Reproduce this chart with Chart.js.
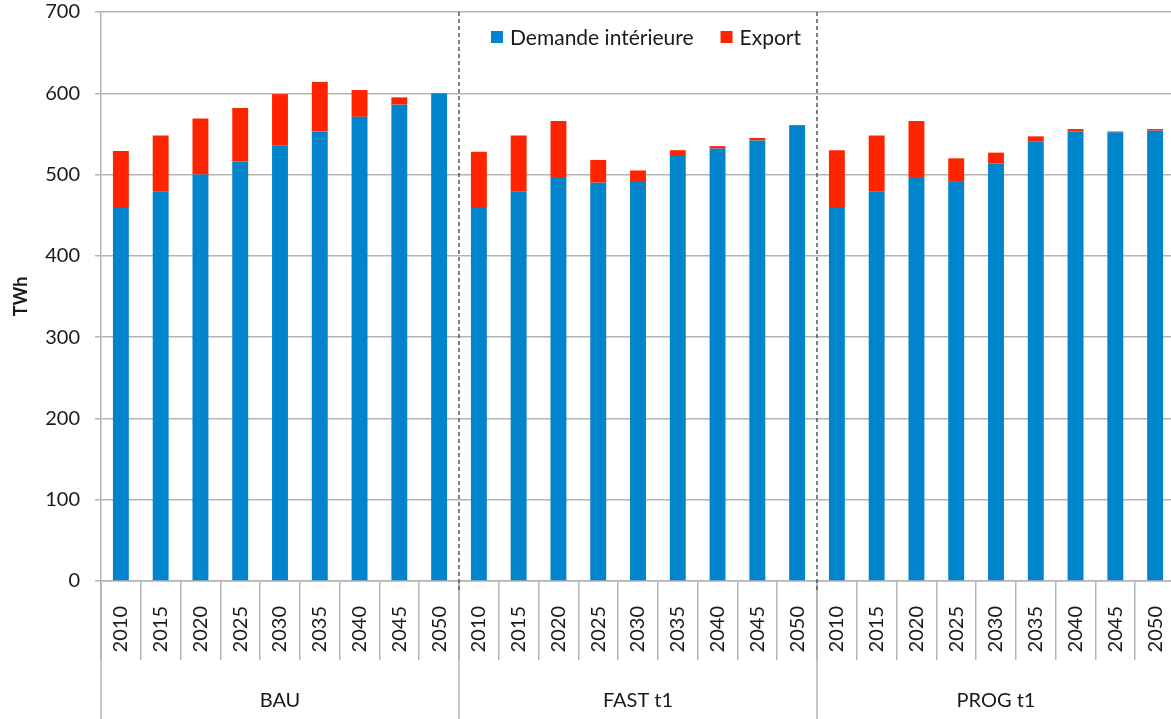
<!DOCTYPE html>
<html>
<head>
<meta charset="utf-8">
<script src="https://cdn.jsdelivr.net/npm/chart.js@4/dist/chart.umd.min.js"></script>
<style>
  html, body { margin: 0; padding: 0; background: #fff; overflow: hidden; }
  #wrap { width: 1171px; height: 719px; overflow: hidden; }
  canvas { display: block; }
</style>
</head>
<body>
<div id="wrap"><canvas id="c" width="1175" height="719"></canvas></div>
<script>
const groups = ['BAU', 'FAST t1', 'PROG t1'];
const years = ['2010', '2015', '2020', '2025', '2030', '2035', '2040', '2045', '2050'];

const demandeBAU  = [460, 479, 500, 516, 536, 553, 571, 586, 599];
const exportBAU   = [69, 69, 69, 66, 63, 61, 33, 9, 1];
const demandeFAST = [460, 479, 497, 490, 492, 524, 532, 542, 560];
const exportFAST  = [68, 69, 69, 28, 13, 6, 3, 3, 1];
const demandePROG = [460, 479, 497, 491, 514, 541, 553, 552, 554];
const exportPROG  = [70, 69, 69, 29, 13, 6, 3, 1, 2];

const yTicks = [0, 100, 200, 300, 400, 500, 600, 700];

const labels = [].concat(years, years, years);
const demande = [].concat(demandeBAU, demandeFAST, demandePROG);
const exportV = [].concat(exportBAU, exportFAST, exportPROG);

const GRID = '#b4b4b4';
const TEXT = '#1a1a1a';
const FONT = 'Lato, "Open Sans", sans-serif';

const groupLines = {
  id: 'groupLines',
  afterDraw(chart) {
    const { ctx, chartArea, scales: { x } } = chart;
    const n = years.length;
    ctx.save();
    for (let g = 0; g <= groups.length; g++) {
      const px = x.getPixelForValue(g * n - 0.5);
      ctx.strokeStyle = GRID;
      ctx.lineWidth = 1.5;
      ctx.setLineDash([]);
      ctx.beginPath();
      ctx.moveTo(px, chartArea.bottom);
      ctx.lineTo(px, chart.height);
      ctx.stroke();
      if (g > 0 && g < groups.length) {
        ctx.strokeStyle = '#555';
        ctx.lineWidth = 1.5;
        ctx.setLineDash([4, 3]);
        ctx.beginPath();
        ctx.moveTo(px, chartArea.top);
        ctx.lineTo(px, chartArea.bottom + 12);
        ctx.stroke();
      }
    }
    // legend drawn inside the chart area, top centre
    const fontSize = 21, box = 12, textGap = 7, itemGap = 27;
    ctx.setLineDash([]);
    ctx.font = fontSize + 'px ' + FONT;
    ctx.textBaseline = 'middle';
    ctx.textAlign = 'left';
    const items = chart.data.datasets.map(d => ({ text: d.label, color: d.backgroundColor, w: ctx.measureText(d.label).width }));
    let total = 0;
    items.forEach((it, i) => { total += box + textGap + it.w + (i ? itemGap : 0); });
    const cx = (chartArea.left + chartArea.right) / 2 + 8;
    const cy = chartArea.top + 25;
    let lx = cx - total / 2;
    items.forEach((it) => {
      ctx.fillStyle = it.color;
      ctx.fillRect(lx, cy - box / 2, box, box);
      ctx.fillStyle = TEXT;
      ctx.fillText(it.text, lx + box + textGap, cy + 1);
      lx += box + textGap + it.w + itemGap;
    });
    ctx.restore();
  }
};

Chart.defaults.font.family = FONT;
Chart.defaults.color = TEXT;

new Chart(document.getElementById('c'), {
  type: 'bar',
  data: {
    labels: labels,
    datasets: [
      { label: 'Demande intérieure', data: demande, backgroundColor: '#0084CB', borderWidth: 0,
        barPercentage: 0.8, categoryPercentage: 0.5 },
      { label: 'Export', data: exportV, backgroundColor: '#FF2400', borderWidth: 0,
        barPercentage: 0.8, categoryPercentage: 0.5 }
    ]
  },
  options: {
    responsive: false,
    animation: false,
    devicePixelRatio: 1,
    layout: { padding: { top: 0, left: 0, right: 0, bottom: 0 } },
    plugins: {
      legend: { display: false },
      tooltip: { enabled: false }
    },
    scales: {
      y: {
        stacked: true,
        min: 0, max: 700,
        afterBuildTicks(scale) { scale.ticks = yTicks.map(v => ({ value: v })); },
        afterFit(scale) { scale.width = 101; scale.paddingTop = 12; },
        ticks: { font: { size: 20 }, color: TEXT, padding: 15 },
        grid: { color: GRID, lineWidth: 1.5, tickLength: 6, drawTicks: true },
        border: { display: true, color: GRID, width: 1.5 },
        title: { display: true, text: 'TWh', font: { size: 18, weight: 'bold' }, color: TEXT, padding: { top: 10, bottom: 0 } }
      },
      x: {
        stacked: true,
        weight: 0,
        afterFit(scale) { scale.height = 79; },
        ticks: { font: { size: 20 }, color: TEXT, minRotation: 90, maxRotation: 90, autoSkip: false, padding: -54 },
        grid: { offset: true, drawOnChartArea: false, drawTicks: true, tickLength: 79, color: GRID, lineWidth: 1.5 },
        border: { display: true, color: GRID, width: 1.5 }
      },
      x2: {
        type: 'category',
        position: 'bottom',
        labels: groups,
        offset: true,
        weight: 1,
        afterFit(scale) { scale.height = 59; },
        ticks: { font: { size: 20 }, color: TEXT, padding: 29, autoSkip: false, maxRotation: 0 },
        grid: { display: false, drawTicks: false },
        border: { display: false }
      }
    }
  },
  plugins: [groupLines]
});
</script>
</body>
</html>
